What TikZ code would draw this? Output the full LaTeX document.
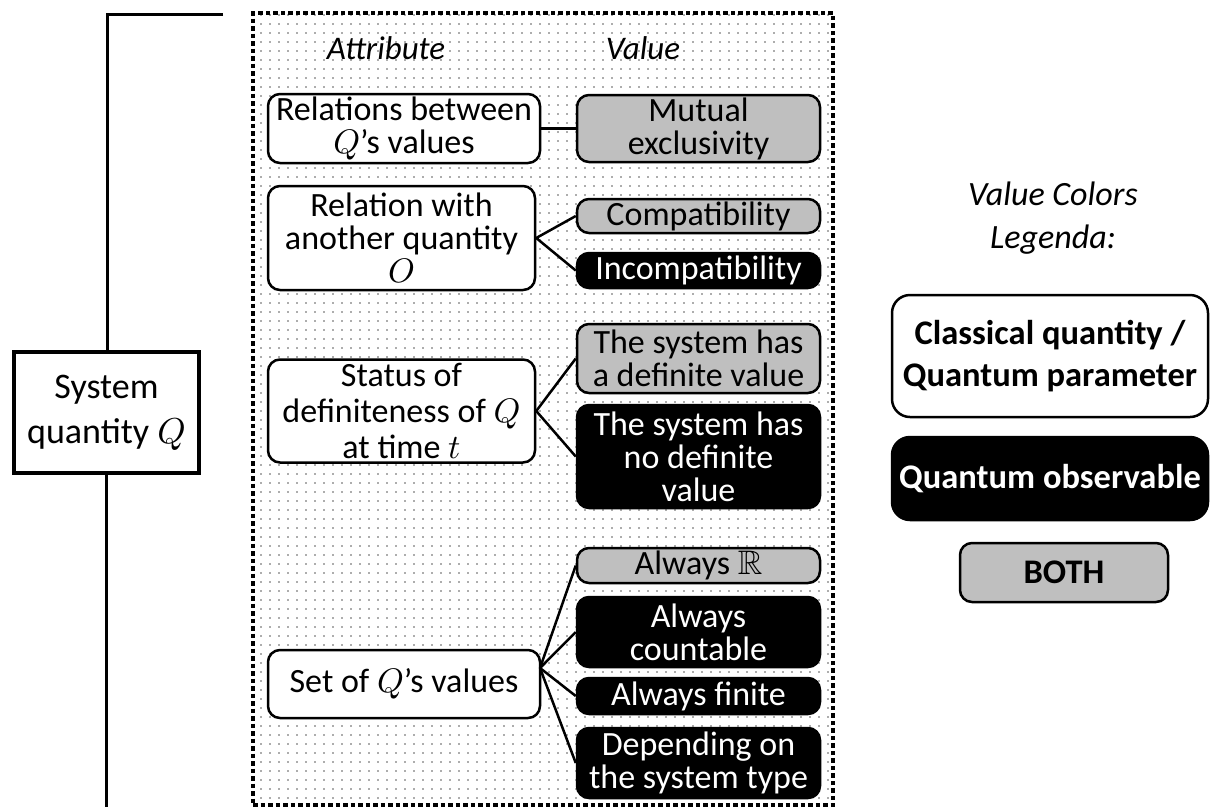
\documentclass[tikz,border=0pt]{standalone}
\usepackage{amssymb}
\usepackage{fontspec}
\setmainfont{Carlito}
\DeclareFontFamily{OML}{cmm}{\skewchar\font127 }
\DeclareFontShape{OML}{cmm}{m}{it}{<->cmmi10}{}
\DeclareFontFamily{U}{msb}{}
\DeclareFontShape{U}{msb}{m}{n}{<->msbm10}{}
\usetikzlibrary{patterns.meta}
\definecolor{valgray}{RGB}{191,191,191}
\tikzset{
  box/.style={draw, line width=2.5pt, rounded corners=12pt, align=center, inner sep=0pt,
    font=\fontsize{34}{33}\selectfont},
  attrbox/.style={box, fill=white},
  graybox/.style={box, fill=valgray},
  blackbox/.style={box, fill=black, text=white},
  conn/.style={line width=2.5pt},
  bracket/.style={line width=3pt},
  panel/.style={draw, line width=4.5pt, dash pattern=on 4.5pt off 3pt,
    pattern={Dots[distance=9pt, radius=0.8pt]}, pattern color=black!65, inner sep=0pt},
  head/.style={font=\fontsize{33}{34}\selectfont\itshape, inner sep=0pt},
  legbox/.style={draw, line width=2.5pt, rounded corners=18pt, align=center, inner sep=0pt,
    font=\fontsize{34.5}{42}\selectfont\bfseries},
}
\begin{document}
\begin{tikzpicture}[x=1pt, y=-1pt]
\useasboundingbox (0,0) rectangle (1210,807);

% dotted panel
\node[panel, minimum width=580pt, minimum height=792pt] (panel) at (543,409) {};

% headings
\node[head] (hAttr) at (386,48) {Attribute};
\node[head] (hVal) at (643,48) {Value};

% system quantity box and bracket
\node[draw, line width=4pt, fill=white, align=center, inner sep=0pt,
      minimum width=185pt, minimum height=121pt,
      font=\fontsize{36}{45}\selectfont] (S) at (106.5,412.5) {System\\quantity $Q$};
\coordinate (btop) at (223,14);
\coordinate (bcorner) at (107,14);
\coordinate (bbot) at (107,807);
\draw[bracket] (btop) -- (bcorner) -- (bcorner |- S.north);
\draw[bracket] (S.south) -- (S.south |- bbot);

% attribute boxes
\node[attrbox, minimum width=272pt, minimum height=69pt, font=\fontsize{34}{33}\selectfont] (A1) at (404,128.5)
  {Relations between\\$Q$'s values};
\node[attrbox, minimum width=267pt, minimum height=104pt] (A2) at (401.5,238)
  {Relation with\\another quantity\\$O$};
\node[attrbox, minimum width=267pt, minimum height=103pt, font=\fontsize{34}{36}\selectfont] (A3) at (401.5,411)
  {Status of\\definiteness of $Q$\\at time $t$};
\node[attrbox, minimum width=272pt, minimum height=68pt] (A4) at (404,684)
  {Set of $Q$'s values};

% value boxes
\node[graybox, minimum width=243pt, minimum height=67pt] (V1) at (698.5,128.5)
  {Mutual\\exclusivity};
\node[graybox, minimum width=243pt, minimum height=34pt] (V2) at (698.5,216)
  {Compatibility};
\node[blackbox, minimum width=243pt, minimum height=35pt] (V3) at (698.5,270.5)
  {Incompatibility};
\node[graybox, minimum width=243pt, minimum height=69pt] (V4) at (698.5,358.5)
  {The system has\\a definite value};
\node[blackbox, minimum width=243pt, minimum height=103pt] (V5) at (698.5,456.5)
  {The system has\\no definite\\value};
\node[graybox, minimum width=243pt, minimum height=35pt] (V6) at (698.5,565.5)
  {Always $\mathbb{R}$};
\node[blackbox, minimum width=243pt, minimum height=70pt] (V7) at (698.5,632)
  {Always\\countable};
\node[blackbox, minimum width=243pt, minimum height=36pt] (V8) at (698.5,696)
  {Always finite};
\node[blackbox, minimum width=243pt, minimum height=70pt] (V9) at (698.5,763)
  {Depending on\\the system type};

% connectors
\draw[conn] (A1.east) -- (V1.west);
\draw[conn] (V2.west) -- (A2.east) -- (V3.west);
\draw[conn] (V4.west) -- (A3.east) -- (V5.west);
\coordinate (J4) at (540,668);
\draw[conn] (J4) -- (V6.west);
\draw[conn] (J4) -- (V7.west);
\draw[conn] (J4) -- (V8.west);
\draw[conn] (J4) -- (V9.west);

% legend
\node[align=center, inner sep=0pt, font=\fontsize{34}{43}\selectfont\itshape] (LT) at (1053,218)
  {Value Colors\\Legenda:};
\node[legbox, fill=white, minimum width=316pt, minimum height=122pt] (L1) at (1050,356)
  {Classical quantity /\\Quantum parameter};
\node[legbox, fill=black, text=white, minimum width=316pt, minimum height=83pt] (L2) at (1050,478.5)
  {Quantum observable};
\node[legbox, rounded corners=12pt, fill=valgray, minimum width=208pt, minimum height=59pt] (L3) at (1064,572.5)
  {BOTH};
\end{tikzpicture}
\end{document}
